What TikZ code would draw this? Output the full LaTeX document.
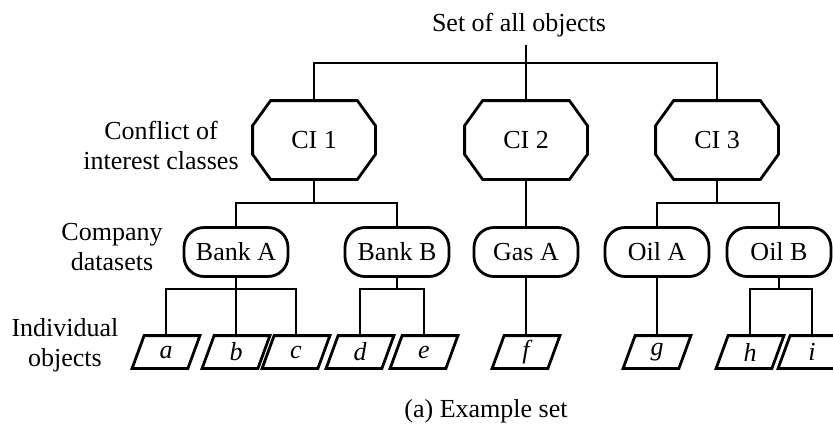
\documentclass[tikz,border=0pt]{standalone}
\usepackage{fontspec}
\setmainfont{Liberation Serif}
\usetikzlibrary{positioning}
\tikzset{lbl/.style = {align=center},
  ci/.style = {minimum width=60pt, minimum height=38pt, inner sep=0},
  company/.style = {draw, rounded corners=10pt, minimum width=52pt, minimum height=24.5pt, inner sep=0},
  obj/.style = {minimum width=32.5pt, minimum height=15pt, inner sep=0, font=\fontsize{13}{15}\selectfont\itshape}}

\begin{document}
\begin{tikzpicture}[x=0.5pt, y=-0.5pt, line width=1.4pt, font=\fontsize{13}{15}\selectfont]
    \useasboundingbox (0,0) rectangle (833,430);
    \coordinate (bus1) at (0,63);
    \coordinate (bus2) at (0,203);
    \coordinate (bus3) at (0,289);
    \node (title) at (519,25) {Set of all objects};
    \node[lbl] (lconf) at (161,145) {Conflict of\\interest classes};
    \node[lbl] (lcomp) at (112,247) {Company\\datasets};
    \node[lbl] (lind) at (65,345) {Individual\\objects};
    \node (caption) at (486,411) {(a) Example set};
    % conflict of interest classes
    \node[ci] (ci1) at (314,140) {CI 1};
    \node[ci] (ci2) at (526,140) {CI 2};
    \node[ci] (ci3) at (717,140) {CI 3};
    \foreach \n in {ci1,ci2,ci3} {
        \draw ([xshift=9pt]\n.north west) -- ([xshift=-9pt]\n.north east)
          -- ([yshift=-12.5pt]\n.north east) -- ([yshift=12.5pt]\n.south east)
          -- ([xshift=-9pt]\n.south east) -- ([xshift=9pt]\n.south west)
          -- ([yshift=12.5pt]\n.south west) -- ([yshift=-12.5pt]\n.north west) -- cycle;
    }
    % company datasets
    \node[company] (banka) at (236,252) {Bank A};
    \node[company] (bankb) at (397,252) {Bank B};
    \node[company] (gasa) at (526,252) {Gas A};
    \node[company] (oila) at (657,252) {Oil A};
    \node[company] (oilb) at (779,252) {Oil B};
    % individual objects
    \node[obj] (a) at (166,352) {a};
    \node[obj] (b) at (236,352) {b};
    \node[obj] (c) at (296,352) {c};
    \node[obj] (d) at (360,352) {d};
    \node[obj] (e) at (424,352) {e};
    \node[obj] (f) at (526,352) {f};
    \node[obj] (g) at (657,352) {g};
    \node[obj] (h) at (750,352) {h};
    \node[obj] (i) at (812,352) {i};
    \foreach \n in {a,b,c,d,e,f,g,h,i} {
        \draw ([xshift=6pt]\n.north west) -- (\n.north east)
          -- ([xshift=-6pt]\n.south east) -- (\n.south west) -- cycle;
    }
    % tree lines
    \draw (ci2.north) -- (ci2 |- title.south);
    \draw (ci1.north) |- (bus1 -| ci3) -- (ci3.north);
    \draw (ci1.south) -- (ci1 |- bus2);
    \draw (banka.north) |- (bus2 -| bankb) -- (bankb.north);
    \draw (ci2.south) -- (gasa.north);
    \draw (ci3.south) -- (ci3 |- bus2);
    \draw (oila.north) |- (bus2 -| oilb) -- (oilb.north);
    \draw (banka.south) -- (b.north);
    \draw (a.north) |- (bus3 -| c) -- (c.north);
    \draw (bankb.south) -- (bankb |- bus3);
    \draw (d.north) |- (bus3 -| e) -- (e.north);
    \draw (gasa.south) -- (f.north);
    \draw (oila.south) -- (g.north);
    \draw (oilb.south) -- (oilb |- bus3);
    \draw (h.north) |- (bus3 -| i) -- (i.north);
\end{tikzpicture}
\end{document}
